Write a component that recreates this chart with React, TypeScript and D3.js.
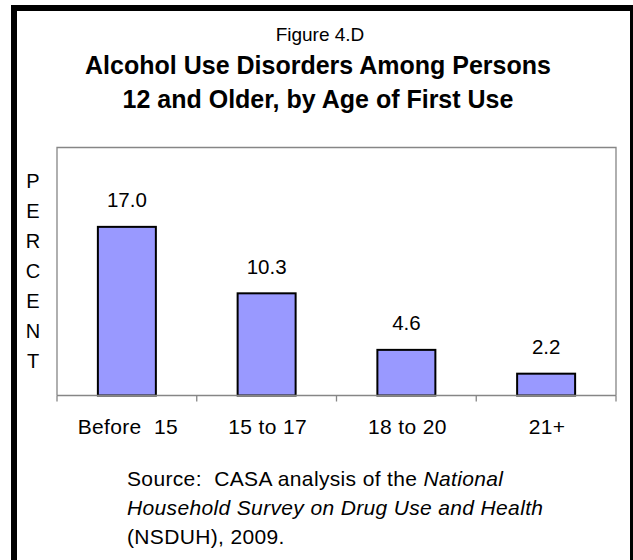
import React from "react";
import * as d3 from "d3";

const categories = ["Before  15", "15 to 17", "18 to 20", "21+"];
const values = [17.0, 10.3, 4.6, 2.2];
const valueLabels = ["17.0", "10.3", "4.6", "2.2"];
const yAxisLetters = ["P", "E", "R", "C", "E", "N", "T"];
const figureLabel = "Figure 4.D";
const titleLines = ["Alcohol Use Disorders Among Persons", "12 and Older, by Age of First Use"];

const W = 633;
const H = 560;
const plot = { left: 57, right: 616, top: 147.5, bottom: 395.5 };
const FONT = "Liberation Sans, Arial, Helvetica, sans-serif";

export default function App() {
  const band = d3.scaleBand<string>().domain(categories).range([plot.left, plot.right]).padding(0);
  const barBand = d3
    .scaleBand<string>()
    .domain(categories)
    .range([plot.left, plot.right])
    .paddingInner(0.585)
    .paddingOuter(0.585 / 2);
  const y = d3.scaleLinear().domain([0, 25]).range([plot.bottom, plot.top]);

  const tickXs = [...categories.map((c) => band(c)!), plot.right];

  return (
    <div style={{ position: "absolute", left: 0, top: 0 }}>
      <svg width={W} height={H} style={{ display: "block", background: "#fff" }} fontFamily={FONT}>
        <rect x={0} y={0} width={W} height={H} fill="#fff" />
        {/* outer frame */}
        <rect x={14} y={8} width={619} height={620} fill="none" stroke="#000" strokeWidth={6} />
        {/* titles */}
        <text x={320} y={41} textAnchor="middle" fontSize={19} fill="#000">
          {figureLabel}
        </text>
        {titleLines.map((t, i) => (
          <text key={i} x={318} y={74 + i * 34} textAnchor="middle" fontSize={25} fontWeight="bold" fill="#000">
            {t}
          </text>
        ))}
        {/* plot frame (left, top, right) */}
        <path
          d={`M${plot.left},${plot.bottom}V${plot.top}H${plot.right}V${plot.bottom}`}
          fill="none"
          stroke="#868686"
          strokeWidth={1.3}
        />
        {/* bars */}
        {categories.map((c, i) => {
          const x0 = barBand(c)!;
          const yt = y(values[i]);
          return (
            <g key={c}>
              <rect
                x={x0}
                y={yt}
                width={barBand.bandwidth()}
                height={plot.bottom - yt}
                fill="#9999FF"
                stroke="#000"
                strokeWidth={2}
              />
              <text x={x0 + barBand.bandwidth() / 2} y={yt - 19.5} textAnchor="middle" fontSize={20.5} fill="#000">
                {valueLabels[i]}
              </text>
            </g>
          );
        })}
        {/* x axis */}
        <line x1={plot.left} x2={plot.right} y1={plot.bottom} y2={plot.bottom} stroke="#868686" strokeWidth={1.3} />
        {tickXs.map((tx, i) => (
          <line key={i} x1={tx} x2={tx} y1={plot.bottom} y2={plot.bottom + 6} stroke="#868686" strokeWidth={1.3} />
        ))}
        {categories.map((c) => (
          <text
            key={c}
            x={band(c)! + band.bandwidth() / 2 + 1}
            y={434}
            textAnchor="middle"
            fontSize={21}
            letterSpacing={0.35}
            fill="#000"
            style={{ whiteSpace: "pre" }}
          >
            {c}
          </text>
        ))}
        {/* vertical axis label */}
        {yAxisLetters.map((l, i) => (
          <text key={i} x={33} y={188 + i * 30} textAnchor="middle" fontSize={20} fill="#000">
            {l}
          </text>
        ))}
        {/* source */}
        <g fontSize={21} letterSpacing={0.35} fill="#000">
          <text x={127} y={486} style={{ whiteSpace: "pre" }}>
            {"Source:  CASA analysis of the "}
            <tspan fontStyle="italic">National</tspan>
          </text>
          <text x={127} y={515} fontStyle="italic">
            Household Survey on Drug Use and Health
          </text>
          <text x={127} y={544}>
            (NSDUH), 2009.
          </text>
        </g>
      </svg>
    </div>
  );
}
